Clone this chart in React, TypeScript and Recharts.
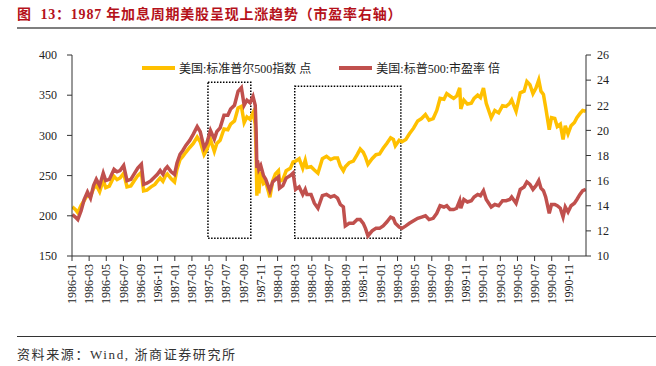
import { LineChart, Line, XAxis, YAxis, ReferenceArea } from "recharts"

const dates = [
  "1986-01-02", "1986-01-13", "1986-01-22", "1986-02-03", "1986-02-14", "1986-02-26",
  "1986-03-06", "1986-03-17", "1986-03-27", "1986-04-08", "1986-04-21", "1986-04-30",
  "1986-05-12", "1986-05-29", "1986-06-09", "1986-06-20", "1986-07-02", "1986-07-14",
  "1986-07-28", "1986-08-08", "1986-08-22", "1986-09-04", "1986-09-12", "1986-09-24",
  "1986-10-08", "1986-10-22", "1986-10-31", "1986-11-10", "1986-11-20", "1986-11-28",
  "1986-12-05", "1986-12-19", "1986-12-31",
  "1987-01-09", "1987-01-20", "1987-01-30", "1987-02-10", "1987-02-24", "1987-03-06",
  "1987-03-20", "1987-03-31", "1987-04-14", "1987-04-24", "1987-05-06", "1987-05-20",
  "1987-05-29", "1987-06-10", "1987-06-24", "1987-07-07", "1987-07-17", "1987-07-31",
  "1987-08-13", "1987-08-25", "1987-09-04", "1987-09-14", "1987-09-25", "1987-10-05",
  "1987-10-13", "1987-10-16", "1987-10-19", "1987-10-21", "1987-10-26", "1987-11-02",
  "1987-11-12", "1987-11-20", "1987-11-30", "1987-12-04", "1987-12-14", "1987-12-24",
  "1988-01-04", "1988-01-08", "1988-01-20", "1988-02-01", "1988-02-16", "1988-02-26",
  "1988-03-04", "1988-03-17", "1988-03-30", "1988-04-08", "1988-04-14", "1988-04-29",
  "1988-05-10", "1988-05-23", "1988-06-08", "1988-06-23", "1988-07-07", "1988-07-20",
  "1988-08-01", "1988-08-11", "1988-08-22", "1988-08-29", "1988-09-12", "1988-09-27",
  "1988-10-10", "1988-10-21", "1988-11-01", "1988-11-09", "1988-11-18", "1988-12-02",
  "1988-12-16", "1988-12-29",
  "1989-01-11", "1989-01-24", "1989-02-07", "1989-02-17", "1989-02-24", "1989-03-07",
  "1989-03-17", "1989-03-31", "1989-04-13", "1989-04-28", "1989-05-12", "1989-05-26",
  "1989-06-09", "1989-06-22", "1989-07-06", "1989-07-19", "1989-07-31", "1989-08-14",
  "1989-08-24", "1989-09-05", "1989-09-18", "1989-09-29", "1989-10-09", "1989-10-13",
  "1989-10-24", "1989-11-06", "1989-11-20", "1989-11-30", "1989-12-12", "1989-12-22",
  "1990-01-02", "1990-01-12", "1990-01-30", "1990-02-12", "1990-02-26", "1990-03-09",
  "1990-03-22", "1990-04-04", "1990-04-11", "1990-04-27", "1990-05-11", "1990-05-25",
  "1990-06-04", "1990-06-15", "1990-06-26", "1990-07-06", "1990-07-16", "1990-07-24",
  "1990-08-02", "1990-08-10", "1990-08-23", "1990-08-31", "1990-09-12", "1990-09-21",
  "1990-10-01", "1990-10-11", "1990-10-19", "1990-10-29", "1990-11-09", "1990-11-21",
  "1990-11-30", "1990-12-10", "1990-12-20", "1990-12-31",
]

// 美国:标准普尔500指数 (点)
const spx = [
  211, 208, 204, 213, 219, 226, 224, 234, 238, 230, 244, 235,
  237, 249, 245, 247, 253, 236, 237, 243, 250, 254, 231, 232,
  236, 239, 243, 247, 243, 249, 252, 246, 242,
  258, 270, 274, 279, 285, 290, 298, 292, 276, 282, 295, 280,
  290, 294, 308, 307, 314, 318, 334, 336, 316, 323, 320, 328,
  314, 282, 225, 258, 228, 255, 240, 242, 230, 223, 243, 252,
  256, 243, 245, 256, 259, 267, 268, 271, 259, 269, 260, 261,
  257, 253, 271, 274, 270, 272, 272, 262, 256, 261, 266, 268,
  276, 283, 279, 273, 264, 271, 276, 277,
  284, 290, 297, 295, 287, 294, 292, 295, 302, 309, 318, 321,
  326, 319, 321, 331, 346, 345, 352, 349, 346, 349, 359, 333,
  344, 339, 340, 346, 350, 347,
  359, 340, 322, 331, 328, 337, 336, 340, 344, 330, 353, 355,
  367, 363, 352, 359, 369, 355, 351, 335, 307, 322, 321, 311,
  314, 295, 312, 302, 312, 316, 322, 327, 331, 330,
]

// 美国:标普500:市盈率 (倍)
const pe = [
  13.3, 13.1, 12.9, 13.6, 14.5, 15.1, 14.6, 15.6, 16.1, 15.6, 16.6, 16.0,
  16.1, 16.9, 16.7, 16.8, 17.2, 16.0, 16.1, 16.5, 17.0, 17.3, 15.7, 15.8,
  16.0, 16.3, 16.5, 16.8, 16.5, 16.9, 17.1, 16.7, 16.5,
  17.4, 18.1, 18.4, 18.8, 19.2, 19.7, 20.3, 19.9, 18.6, 19.0, 20.0, 19.3,
  19.9, 20.2, 21.2, 21.2, 21.7, 22.0, 23.1, 23.4, 22.0, 22.4, 22.2, 22.7,
  22.0, 20.2, 17.0, 17.6, 16.9, 17.2, 16.4, 16.1, 15.5, 15.2, 15.9, 16.1,
  16.3, 15.4, 15.6, 16.2, 16.4, 16.6, 15.3, 15.5, 14.9, 15.3, 14.9, 14.9,
  14.2, 13.8, 14.8, 14.9, 14.7, 14.8, 14.6, 14.1, 13.9, 12.4, 12.6, 12.6,
  12.9, 12.9, 12.6, 12.2, 11.6, 12.0, 12.2, 12.2,
  12.4, 12.7, 13.1, 13.0, 12.6, 12.3, 12.2, 12.4, 12.6, 12.8, 13.0, 13.1,
  13.2, 12.9, 13.0, 13.4, 14.0, 13.9, 14.0, 13.7, 13.7, 13.8, 14.4, 13.8,
  14.5, 14.3, 14.4, 14.7, 14.9, 14.8,
  15.2, 14.5, 13.9, 14.1, 14.0, 14.4, 14.4, 14.5, 14.7, 14.2, 15.3, 15.5,
  15.9, 15.7, 15.3, 15.6, 16.0, 15.4, 15.2, 14.7, 13.4, 14.1, 14.1, 14.0,
  13.8, 13.1, 13.9, 13.5, 14.0, 14.2, 14.5, 14.9, 15.2, 15.3,
]

const tickLabels = [
  "1986-01", "1986-03", "1986-05", "1986-07", "1986-09", "1986-11",
  "1987-01", "1987-03", "1987-05", "1987-07", "1987-09", "1987-11",
  "1988-01", "1988-03", "1988-05", "1988-07", "1988-09", "1988-11",
  "1989-01", "1989-03", "1989-05", "1989-07", "1989-09", "1989-11",
  "1990-01", "1990-03", "1990-05", "1990-07", "1990-09", "1990-11",
]

const leftTicks = [150, 200, 250, 300, 350, 400]
const rightTicks = [10, 12, 14, 16, 18, 20, 22, 24, 26]

// dotted boxes drawn on the chart (dates, index level)
const boxes = [
  { from: "1987-04-28", to: "1987-09-28", low: 172, high: 366 },
  { from: "1988-03-01", to: "1989-03-13", low: 172, high: 361 },
]

const YELLOW = "#FFC000"
const RED = "#C0504D"
const AXIS = "#333"
const SERIF = "'Liberation Serif', 'Noto Sans CJK SC', serif"

// months since 1986-01-01
function toMonth(s: string) {
  const [y, mo, d] = s.split("-").map(Number)
  return (y - 1986) * 12 + (mo - 1) + (d ? (d - 1) / 31 : 0)
}

const rows = dates.map((d, i) => ({ m: toMonth(d), spx: spx[i], pe: pe[i] }))
const xTicks = tickLabels.map(toMonth)

function XTick(props: any) {
  const { x, y, payload } = props
  const label = tickLabels[Math.round(payload.value / 2)]
  return (
    <text
      x={x}
      y={y}
      transform={`rotate(-90 ${x} ${y})`}
      textAnchor="end"
      dy="0.35em"
      fontSize={12}
      fontFamily={SERIF}
      fill="#222"
    >
      {label}
    </text>
  )
}

function LegendItem({ color, text }: { color: string; text: string }) {
  return (
    <div style={{ display: "flex", alignItems: "center" }}>
      <div style={{ width: 33, height: 4, background: color, marginRight: 4 }} />
      <span>{text}</span>
    </div>
  )
}

export default function App() {
  return (
    <div
      style={{
        position: "absolute",
        left: 0,
        top: 0,
        width: 656,
        height: 366,
        background: "#fff",
        overflow: "hidden",
      }}
    >
      <div
        style={{
          position: "absolute",
          left: 17,
          top: 3,
          fontSize: 14,
          fontWeight: "bold",
          color: "#B5121B",
          fontFamily: SERIF,
          letterSpacing: 0.8,
          whiteSpace: "pre",
        }}
      >
        图  13：1987 年加息周期美股呈现上涨趋势（市盈率右轴）
      </div>
      <div style={{ position: "absolute", left: 17, top: 27, width: 639, height: 2, background: "#7f7f7f" }} />

      <LineChart
        width={656}
        height={366}
        data={rows}
        margin={{ top: 55, right: 0, bottom: 50, left: 0 }}
        style={{ position: "absolute", left: 0, top: 0 }}
      >
        <XAxis
          dataKey="m"
          type="number"
          domain={[0, 60]}
          ticks={xTicks}
          interval={0}
          height={60}
          tick={<XTick />}
          tickSize={5}
          tickMargin={3}
          stroke={AXIS}
          allowDataOverflow
        />
        <YAxis
          yAxisId="left"
          domain={[150, 400]}
          ticks={leftTicks}
          width={72}
          tickSize={5}
          tickMargin={10}
          stroke={AXIS}
          tick={{ fontSize: 12, fontFamily: SERIF, fill: "#222" }}
        />
        <YAxis
          yAxisId="right"
          orientation="right"
          domain={[10, 26]}
          ticks={rightTicks}
          width={70}
          tickSize={5}
          tickMargin={6}
          stroke={AXIS}
          tick={{ fontSize: 12, fontFamily: SERIF, fill: "#222" }}
        />
        <Line
          yAxisId="left"
          dataKey="spx"
          name="美国:标准普尔500指数 点"
          type="linear"
          stroke={YELLOW}
          strokeWidth={3.5}
          dot={false}
          isAnimationActive={false}
        />
        <Line
          yAxisId="right"
          dataKey="pe"
          name="美国:标普500:市盈率 倍"
          type="linear"
          stroke={RED}
          strokeWidth={3.5}
          dot={false}
          isAnimationActive={false}
        />
        {boxes.map((b, i) => (
          <ReferenceArea
            key={i}
            yAxisId="left"
            x1={toMonth(b.from)}
            x2={toMonth(b.to)}
            y1={b.low}
            y2={b.high}
            fill="none"
            stroke="#000"
            strokeWidth={1.5}
            strokeDasharray="1.5 1.5"
            ifOverflow="visible"
          />
        ))}
      </LineChart>

      <div
        style={{
          position: "absolute",
          left: 142,
          top: 59,
          display: "flex",
          gap: 28,
          fontSize: 12,
          fontFamily: SERIF,
          color: "#222",
          whiteSpace: "nowrap",
        }}
      >
        <LegendItem color={YELLOW} text="美国:标准普尔500指数 点" />
        <LegendItem color={RED} text="美国:标普500:市盈率 倍" />
      </div>

      <div style={{ position: "absolute", left: 17, top: 336, width: 639, height: 1, background: "#333" }} />
      <div
        style={{
          position: "absolute",
          left: 17,
          top: 344,
          fontSize: 13,
          fontFamily: SERIF,
          color: "#333",
          letterSpacing: 1.6,
          whiteSpace: "nowrap",
        }}
      >
        资料来源：Wind, 浙商证券研究所
      </div>
    </div>
  )
}
